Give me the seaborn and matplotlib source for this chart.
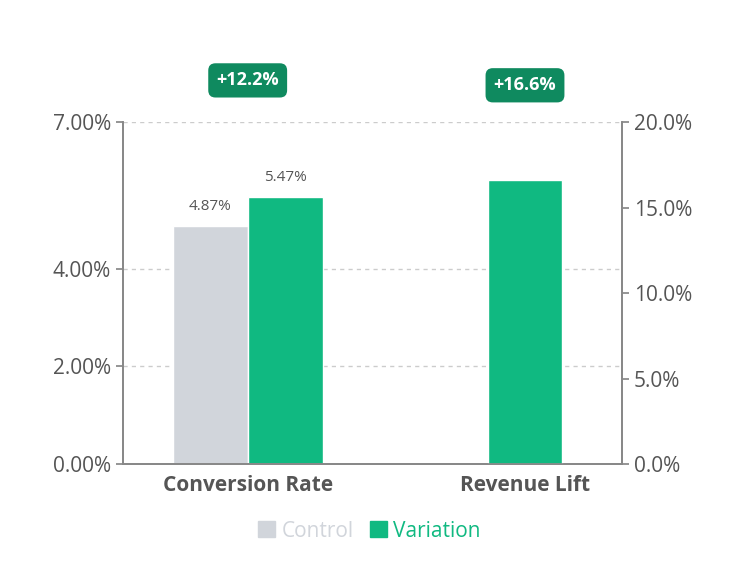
import pandas as pd
import matplotlib.pyplot as plt
import seaborn as sns

sns.set_theme(style="white")
plt.rcParams['font.family'] = ['Open Sans', 'DejaVu Sans']

categories = ["Conversion Rate", "Revenue Lift"]
groups = ["Control", "Variation"]
conv_values = [4.87, 5.47]
revenue_lift = 16.6
badges = ["+12.2%", "+16.6%"]
left_ticks = [0, 2, 4, 7]
right_ticks = [0, 5, 10, 15, 20]

GRAY = "#d1d5db"
GREEN = "#10b981"
BADGE = "#0f8a5f"
TXT = "#555555"

df_conv = pd.DataFrame({"cat": [categories[0]] * 2, "group": groups, "val": conv_values})
df_rev = pd.DataFrame({"cat": [categories[1]], "val": [revenue_lift]})

fig = plt.figure(figsize=(7.54, 5.62), dpi=100)
ax = fig.add_axes([0.163, 0.174, 0.662, 0.609])
sns.barplot(data=df_conv, x="cat", y="val", hue="group", order=categories,
            palette=[GRAY, GREEN], width=0.54, ax=ax, legend=False, saturation=1)
ax2 = ax.twinx()
sns.barplot(data=df_rev, x="cat", y="val", order=categories, color=GREEN,
            width=0.27, ax=ax2, saturation=1)

ax.set_xlim(-0.45, 1.35)
ax.set_ylim(0, 7)
ax2.set_ylim(0, 20)
ax.set_yticks(left_ticks)
ax.set_yticklabels([f"{t:.2f}%" for t in left_ticks])
ax2.set_yticks(right_ticks)
ax2.set_yticklabels([f"{t:.1f}%" for t in right_ticks])
for a in (ax, ax2):
    a.tick_params(axis='y', labelsize=15, colors=TXT, length=5, color="#888888")
    a.set_xlabel("")
    a.set_ylabel("")
    for s in ["top"]:
        a.spines[s].set_visible(False)
    a.spines["left"].set_color("#888888")
    a.spines["right"].set_color("#888888")
    a.spines["bottom"].set_color("#888888")
ax.set_xticks([0, 1])
ax.set_xticklabels(categories, fontsize=15, fontweight="bold", color=TXT)
ax.tick_params(axis='x', length=0, pad=8)
ax.yaxis.grid(True, linestyle=(0, (3, 3)), color="#cccccc")
ax.set_axisbelow(True)

for bar, v in zip(ax.patches, conv_values):
    ax.text(bar.get_x() + bar.get_width() / 2, v + 0.25, f"{v:.2f}%",
            ha="center", va="bottom", fontsize=11, color=TXT)

for i, b in enumerate(badges):
    ax.text(i, 7.85 if i == 0 else 7.75, b, ha="center", va="center", fontsize=13,
            fontweight="bold", color="white",
            bbox=dict(boxstyle="round,pad=0.45,rounding_size=0.4", fc=BADGE, ec="none"))

fig.legend(handles=[plt.Rectangle((0, 0), 1, 1, color=GRAY),
                    plt.Rectangle((0, 0), 1, 1, color=GREEN)],
           labels=groups, loc="center", bbox_to_anchor=(0.49, 0.055), ncol=2,
           frameon=False, fontsize=15, handlelength=0.8, handleheight=0.8,
           columnspacing=0.8, handletextpad=0.3, labelcolor=[GRAY, GREEN])

fig.savefig("out.png", dpi=100)
